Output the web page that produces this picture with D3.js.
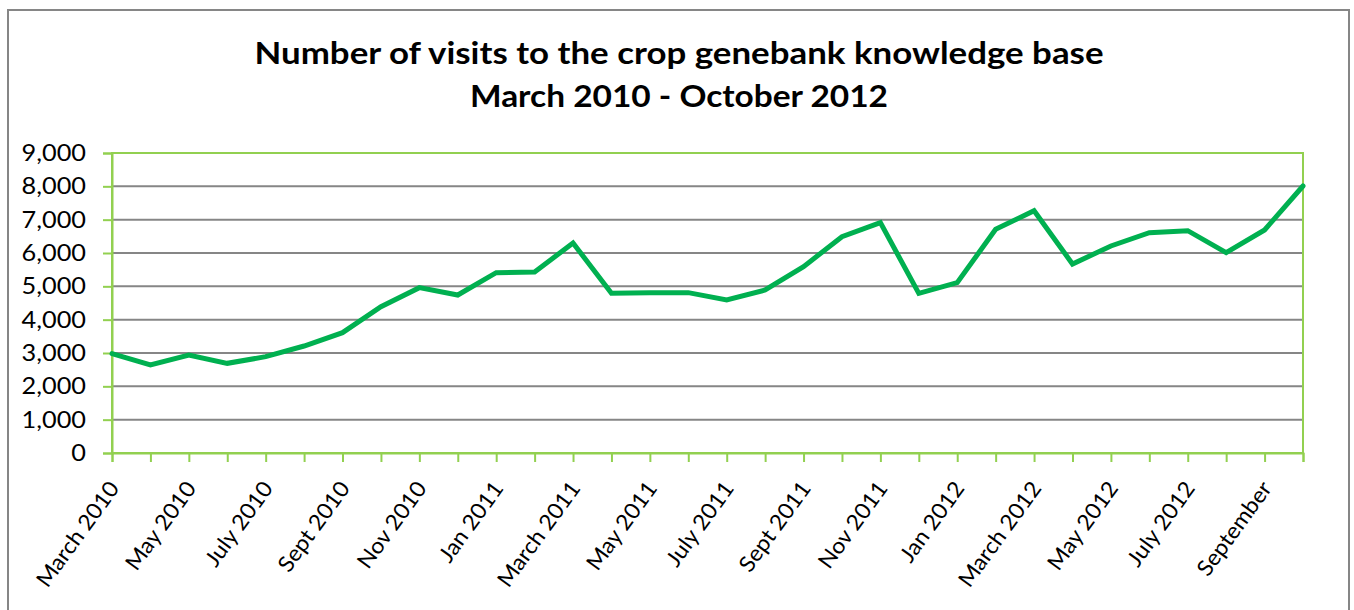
<!DOCTYPE html>
<html>
<head>
<meta charset="utf-8">
<script src="https://cdn.jsdelivr.net/npm/d3@7"></script>
<style>
  body { margin: 0; background: #fff; }
  svg { display: block; font-family: Lato, "Open Sans", sans-serif; }
</style>
</head>
<body>
<div class="graph"></div>
<script>
// Meses (uno por punto)
const meses = [
  "March 2010", "April 2010", "May 2010", "June 2010", "July 2010", "Aug 2010",
  "Sept 2010", "Oct 2010", "Nov 2010", "Dec 2010", "Jan 2011", "Feb 2011",
  "March 2011", "April 2011", "May 2011", "June 2011", "July 2011", "Aug 2011",
  "Sept 2011", "Oct 2011", "Nov 2011", "Dec 2011", "Jan 2012", "Feb 2012",
  "March 2012", "April 2012", "May 2012", "June 2012", "July 2012", "Aug 2012",
  "September", "October 2012"
];

// Visitas por mes
const visitas = [
  2980, 2640, 2940, 2690, 2890, 3210, 3610, 4390, 4960, 4740, 5410, 5430,
  6300, 4790, 4810, 4810, 4590, 4890, 5590, 6490, 6910, 4790, 5110, 6710,
  7270, 5670, 6210, 6610, 6670, 6010, 6690, 8010
];

// Marcas del eje Y
const ticksY = [0, 1000, 2000, 3000, 4000, 5000, 6000, 7000, 8000, 9000];

const titulo = ["Number of visits to the crop genebank knowledge base", "March 2010 - October 2012"];

const width = 1354;
const height = 610;
const verde = "#92d050";
const gris = "#868686";

// Estira el texto un poco a lo ancho (la fuente original es más ancha)
function estirar(sel, factor) {
  sel.each(function () {
    const w = this.getComputedTextLength();
    d3.select(this)
      .attr("textLength", w * factor)
      .attr("lengthAdjust", "spacingAndGlyphs");
  });
}

const svg = d3.select(".graph")
  .append("svg")
  .attr("width", width)
  .attr("height", height);

// Marco del gráfico
svg.append("path")
  .attr("d", "M8,620 L8,10 L1349,10 L1349,620")
  .attr("fill", "none")
  .attr("stroke", gris)
  .attr("stroke-width", 2);

// Título
svg.append("text")
  .attr("x", 679)
  .attr("y", 64)
  .attr("text-anchor", "middle")
  .attr("font-weight", "bold")
  .attr("font-size", 30)
  .attr("textLength", 849)
  .attr("lengthAdjust", "spacingAndGlyphs")
  .text(titulo[0]);
svg.append("text")
  .attr("x", 679)
  .attr("y", 107)
  .attr("text-anchor", "middle")
  .attr("font-weight", "bold")
  .attr("font-size", 30)
  .attr("textLength", 418)
  .attr("lengthAdjust", "spacingAndGlyphs")
  .text(titulo[1]);

// Escalas
const x = d3.scalePoint()
  .domain(meses)
  .range([112, 1303]);

const y = d3.scaleLinear()
  .domain([0, 9000])
  .range([453, 153]);

// Líneas de cuadrícula
svg.append("g")
  .selectAll("line")
  .data(ticksY.filter(d => d > 0 && d < 9000))
  .enter()
  .append("line")
  .attr("x1", 112)
  .attr("x2", 1303)
  .attr("y1", d => y(d))
  .attr("y2", d => y(d))
  .attr("stroke", gris)
  .attr("stroke-width", 2);

// Borde del área de trazado
svg.append("rect")
  .attr("x", 112)
  .attr("y", 153)
  .attr("width", 1303 - 112)
  .attr("height", 453 - 153)
  .attr("fill", "none")
  .attr("stroke", verde)
  .attr("stroke-width", 2);

// Eje Y
const ejeY = svg.append("g")
  .attr("transform", "translate(112,0)")
  .call(d3.axisLeft(y).tickValues(ticksY).tickFormat(d3.format(",")).tickSize(9).tickPadding(17));
ejeY.select(".domain").attr("stroke", verde).attr("stroke-width", 2);
ejeY.selectAll(".tick line").attr("stroke", verde).attr("stroke-width", 2);
ejeY.selectAll(".tick text")
  .attr("font-family", "Lato, sans-serif")
  .attr("font-size", 23)
  .attr("fill", "#000")
  .call(estirar, 1.1);

// Eje X
const ejeX = svg.append("g")
  .attr("transform", "translate(0,453)")
  .call(d3.axisBottom(x).tickSize(9).tickFormat(""));
ejeX.select(".domain").attr("stroke", verde).attr("stroke-width", 2);
ejeX.selectAll(".tick line").attr("stroke", verde).attr("stroke-width", 2);

// Etiquetas del eje X (una de cada dos)
svg.append("g")
  .selectAll("text")
  .data(meses.filter((d, i) => i % 2 === 0))
  .enter()
  .append("text")
  .attr("transform", d => `translate(${x(d) + 2},484) rotate(-54)`)
  .attr("text-anchor", "end")
  .attr("dy", "0.35em")
  .attr("font-size", 22)
  .attr("fill", "#000")
  .text(d => d)
  .call(estirar, 1.05);

// Línea de visitas
const line = d3.line()
  .x((d, i) => x(meses[i]))
  .y(d => y(d));

svg.append("path")
  .datum(visitas)
  .attr("d", line)
  .attr("fill", "none")
  .attr("stroke", "#00b050")
  .attr("stroke-width", 5)
  .attr("stroke-linejoin", "miter")
  .attr("stroke-linecap", "round");
</script>
</body>
</html>
